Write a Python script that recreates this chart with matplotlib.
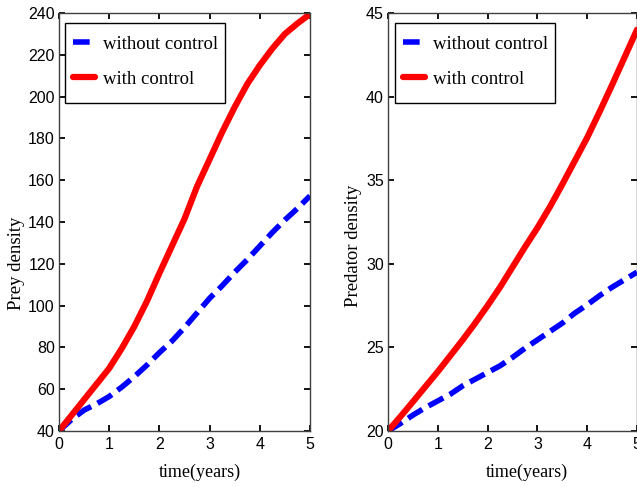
import matplotlib
matplotlib.use("Agg")
import matplotlib.pyplot as plt
from matplotlib.patches import Rectangle

t = [0, 0.25, 0.5, 0.75, 1, 1.25, 1.5, 1.75, 2, 2.25, 2.5, 2.75, 3,
     3.25, 3.5, 3.75, 4, 4.25, 4.5, 4.75, 5]
prey_without = [40, 45.5, 50, 53, 56.5, 61, 66, 71.5, 77.5, 83, 89.5, 96.5, 103.5,
                109.5, 116, 122, 128.5, 135, 141, 146.5, 152.5]
prey_with = [40, 47.5, 55, 62.5, 70, 79.5, 90, 102, 115.5, 128.5, 141.5, 157, 170,
             183, 195, 206, 215, 223, 230, 235, 239.5]
pred_without = [20, 20.45, 20.95, 21.4, 21.8, 22.2, 22.7, 23.1, 23.5, 23.9, 24.4,
                24.95, 25.45, 25.95, 26.45, 27.05, 27.55, 28.1, 28.6, 29.05, 29.5]
pred_with = [20, 20.86, 21.75, 22.65, 23.55, 24.5, 25.45, 26.45, 27.5, 28.6, 29.8,
             31.0, 32.15, 33.4, 34.75, 36.15, 37.55, 39.1, 40.7, 42.35, 44.0]

labels = ["without control", "with control"]
xlabel = "time(years)"
ylabels = ["Prey density", "Predator density"]

serif = ["Liberation Serif", "DejaVu Serif"]
sans = ["Liberation Sans", "DejaVu Sans"]

W, H = 637, 487
fig = plt.figure(figsize=(6.37, 4.87), dpi=100)
ax1 = fig.add_axes([59/W, 56/H, 251/W, 418/H])
ax2 = fig.add_axes([388/W, 56/H, 249/W, 418/H])

def style(ax, ylim, yticks, ylabel, yw, yr, box, ylab_xy, xlab_xy, leg_xy):
    ax.plot(t, yw, color="#0000ff", lw=4, ls=(0, (3.0, 1.3)), label=labels[0],
            solid_capstyle="butt", dash_capstyle="butt")
    ax.plot(t, yr, color="#ff0000", lw=4.5, ls="-", label=labels[1],
            solid_capstyle="round", solid_joinstyle="round")
    ax.set_xlim(0, 5)
    ax.set_ylim(*ylim)
    ax.set_xticks([0, 1, 2, 3, 4, 5])
    ax.set_yticks(yticks)
    ax.tick_params(direction="in", top=True, right=True, length=4, width=1.3,
                   labelsize=11.5, pad=4)
    ax.tick_params(axis="y", pad=3)
    for lab in ax.get_xticklabels() + ax.get_yticklabels():
        lab.set_family(sans)
    for sp in ax.spines.values():
        sp.set_color("#404040")
        sp.set_linewidth(1.0)
    ax.set_xlabel(xlabel, family=serif, fontsize=13)
    ax.set_ylabel(ylabel, family=serif, fontsize=13.5)
    ax.xaxis.set_label_coords(*xlab_xy)
    ax.yaxis.set_label_coords(*ylab_xy)
    ax.legend(loc="upper left", bbox_to_anchor=leg_xy,
              prop={"family": serif, "size": 13.5}, frameon=False,
              handlelength=1.15, labelspacing=0.96, borderpad=0,
              handletextpad=0.45, borderaxespad=0)
    x0, y0, x1, y1 = box
    ax.add_patch(Rectangle((x0, y0), x1 - x0, y1 - y0, transform=ax.transAxes,
                           fill=False, edgecolor="black", lw=1.0, zorder=5))

style(ax1, (40, 240), list(range(40, 241, 20)), ylabels[0], prey_without, prey_with,
      box=(0.024, 0.785, 0.661, 0.976), ylab_xy=(-0.135, 0.40),
      xlab_xy=(0.562, -0.079), leg_xy=(0.056, 0.946))
style(ax2, (20, 45), [20, 25, 30, 35, 40, 45], ylabels[1], pred_without, pred_with,
      box=(0.028, 0.785, 0.671, 0.976), ylab_xy=(-0.104, 0.443),
      xlab_xy=(0.558, -0.079), leg_xy=(0.06, 0.946))

fig.savefig("out.png", dpi=100)
